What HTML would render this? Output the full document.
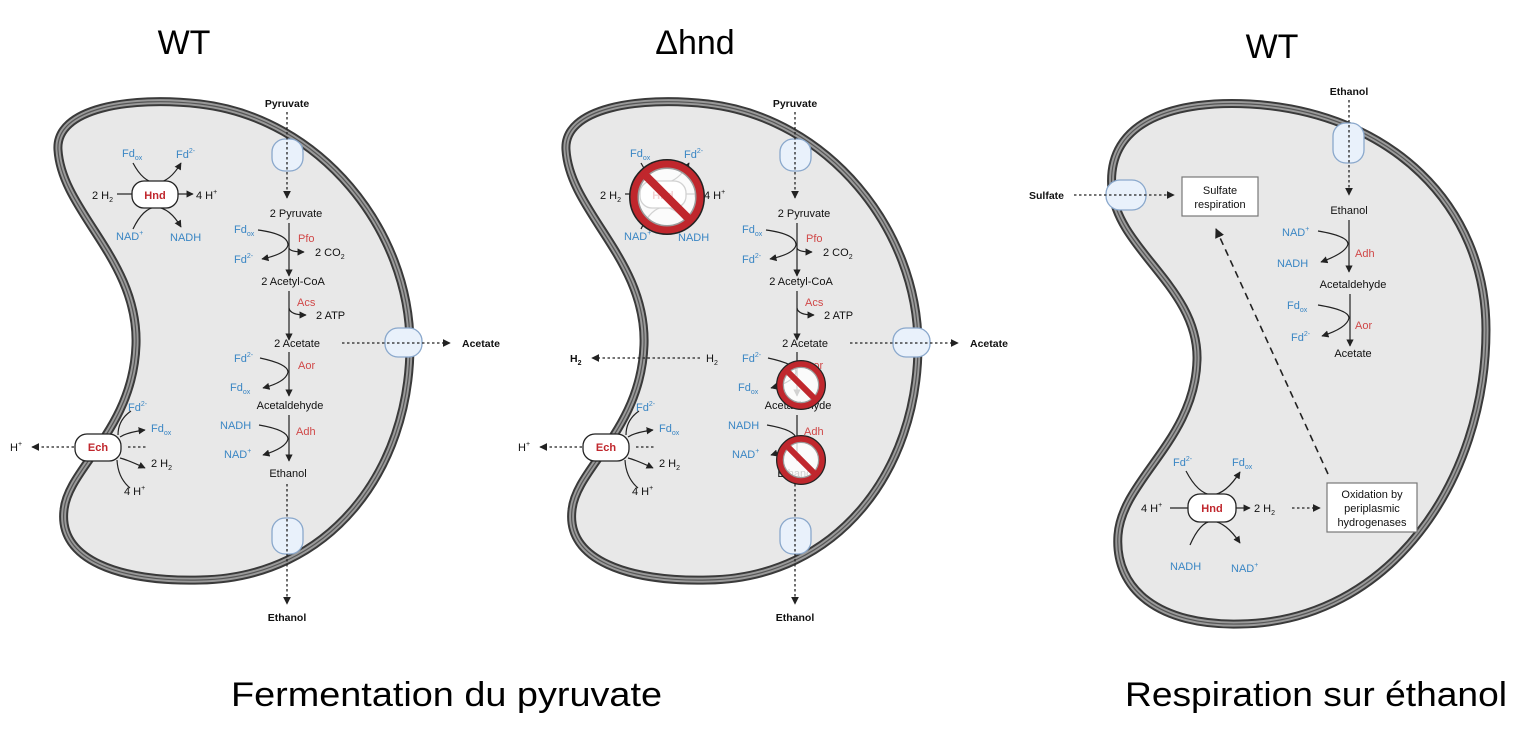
<!DOCTYPE html>
<html><head><meta charset="utf-8"><style>
html,body{margin:0;padding:0;background:#fff;}
svg{display:block;font-family:"Liberation Sans",Arial,sans-serif;}
.t{font-size:11px;fill:#111;}
.b{font-size:10.5px;font-weight:bold;fill:#111;}
.bl{font-size:11px;fill:#3a86c4;}
.r{font-size:11px;fill:#d04848;}
.ln{fill:none;stroke:#222;stroke-width:1.2;}
.dot{fill:none;stroke:#222;stroke-width:1.3;stroke-dasharray:2.5 2.5;}
.mem{fill:#e9f1fb;stroke:#8aa8cc;stroke-width:1.3;}
.enz{fill:#fff;stroke:#222;stroke-width:1.3;}
.en{font-size:11px;font-weight:bold;fill:#c0272d;}
.big{font-family:"Liberation Sans",sans-serif;font-size:34px;fill:#000;}
</style></head><body>
<svg width="1535" height="744" viewBox="0 0 1535 744" xmlns="http://www.w3.org/2000/svg">
<defs>
<marker id="a" viewBox="0 0 10 10" refX="9" refY="5" markerWidth="6" markerHeight="6" orient="auto"><path d="M0,0 L10,5 L0,10 z" fill="#222"/></marker>
<path id="p1" d="M 58,150 C 55,108 130,96 200,104 C 320,118 410,230 410,345 C 410,470 330,578 200,580 C 120,582 58,560 64,510 C 68,468 133,430 136,345 C 139,260 62,212 58,150 Z"/>
<g id="cell">
<use href="#p1" fill="#e8e8e8" stroke="#3a3a3a" stroke-width="9"/>
<use href="#p1" fill="none" stroke="#9a9a9a" stroke-width="5"/>
<use href="#p1" fill="none" stroke="#555" stroke-width="1.2"/>
<rect x="272" y="139" width="31" height="32" rx="13" class="mem"/>
<rect x="385" y="328" width="37" height="29" rx="13" class="mem"/>
<rect x="272" y="518" width="31" height="36" rx="13" class="mem"/>
<text x="287" y="107" class="b" text-anchor="middle">Pyruvate</text>
<line x1="287" y1="112" x2="287" y2="198" class="dot" marker-end="url(#a)"/>
<text x="296" y="217" class="t" text-anchor="middle">2 Pyruvate</text>
<line x1="289" y1="223" x2="289" y2="276" class="ln" marker-end="url(#a)"/>
<text x="234" y="233" class="bl">Fd<tspan font-size="7" dy="3">ox</tspan></text>
<path d="M258,230 Q288,234 288,245 Q286,254 262,259" class="ln" marker-end="url(#a)"/>
<path d="M289,248 Q290,252 304,252" class="ln" marker-end="url(#a)"/>
<text x="298" y="242" class="r">Pfo</text>
<text x="234" y="263" class="bl">Fd<tspan font-size="7" dy="-5">2-</tspan></text>
<text x="315" y="256" class="t">2 CO<tspan font-size="7" dy="3">2</tspan></text>
<text x="293" y="285" class="t" text-anchor="middle">2 Acetyl-CoA</text>
<line x1="289" y1="291" x2="289" y2="340" class="ln" marker-end="url(#a)"/>
<text x="297" y="306" class="r">Acs</text>
<path d="M289,308 Q290,315 306,315" class="ln" marker-end="url(#a)"/>
<text x="316" y="319" class="t">2 ATP</text>
<text x="297" y="347" class="t" text-anchor="middle">2 Acetate</text>
<line x1="289" y1="352" x2="289" y2="396" class="ln" marker-end="url(#a)"/>
<text x="234" y="362" class="bl">Fd<tspan font-size="7" dy="-5">2-</tspan></text>
<path d="M260,358 Q288,364 288,372 Q286,382 263,388" class="ln" marker-end="url(#a)"/>
<text x="298" y="369" class="r">Aor</text>
<text x="230" y="391" class="bl">Fd<tspan font-size="7" dy="3">ox</tspan></text>
<text x="290" y="409" class="t" text-anchor="middle">Acetaldehyde</text>
<line x1="289" y1="415" x2="289" y2="461" class="ln" marker-end="url(#a)"/>
<text x="220" y="429" class="bl">NADH</text>
<path d="M259,425 Q288,430 288,439 Q286,448 263,455" class="ln" marker-end="url(#a)"/>
<text x="296" y="435" class="r">Adh</text>
<text x="224" y="458" class="bl">NAD<tspan font-size="7" dy="-5">+</tspan></text>
<text x="288" y="477" class="t" text-anchor="middle">Ethanol</text>
<line x1="287" y1="484" x2="287" y2="604" class="dot" marker-end="url(#a)"/>
<text x="287" y="621" class="b" text-anchor="middle">Ethanol</text>
<line x1="128" y1="447" x2="146" y2="447" class="dot"/>
<line x1="74" y1="447" x2="32" y2="447" class="dot" marker-end="url(#a)"/>
<text x="10" y="451" class="t">H<tspan font-size="7" dy="-5">+</tspan></text>
<path d="M118,435 Q118,420 131,411" class="ln"/>
<path d="M120,437 Q128,432 145,430" class="ln" marker-end="url(#a)"/>
<path d="M120,458 Q128,460 145,468" class="ln" marker-end="url(#a)"/>
<path d="M117,460 Q118,478 130,488" class="ln"/>
<text x="128" y="411" class="bl">Fd<tspan font-size="7" dy="-5">2-</tspan></text>
<text x="151" y="432" class="bl">Fd<tspan font-size="7" dy="3">ox</tspan></text>
<text x="151" y="467" class="t">2 H<tspan font-size="7" dy="3">2</tspan></text>
<text x="124" y="495" class="t">4 H<tspan font-size="7" dy="-5">+</tspan></text>
<rect x="75" y="434" width="46" height="27" rx="12" class="enz"/>
<text x="98" y="451" class="en" text-anchor="middle">Ech</text>
</g>
<g id="hnd1">
<text x="122" y="157" class="bl">Fd<tspan font-size="7" dy="3">ox</tspan></text>
<text x="176" y="158" class="bl">Fd<tspan font-size="7" dy="-5">2-</tspan></text>
<path d="M133,163 Q143,182 156,183 Q170,182 181,163" class="ln" marker-end="url(#a)"/>
<path d="M133,229 Q143,208 156,207 Q170,208 181,227" class="ln" marker-end="url(#a)"/>
<text x="92" y="199" class="t">2 H<tspan font-size="7" dy="3">2</tspan></text>
<line x1="117" y1="194" x2="133" y2="194" class="ln"/>
<line x1="177" y1="194" x2="193" y2="194" class="ln" marker-end="url(#a)"/>
<text x="196" y="199" class="t">4 H<tspan font-size="7" dy="-5">+</tspan></text>
<text x="116" y="240" class="bl">NAD<tspan font-size="7" dy="-5">+</tspan></text>
<text x="170" y="241" class="bl">NADH</text>
<rect x="132" y="181" width="46" height="27" rx="12" class="enz"/>
<text x="155" y="199" class="en" text-anchor="middle">Hnd</text>
</g>
<path id="p3" d="M 1112,190 C 1105,118 1180,100 1250,104 C 1390,112 1486,205 1486,330 C 1486,480 1390,622 1240,624 C 1160,626 1114,590 1118,535 C 1122,480 1195,440 1197,360 C 1199,288 1118,250 1112,190 Z"/>
</defs>

<use href="#cell"/>
<use href="#hnd1"/>
<line x1="342" y1="343" x2="450" y2="343" class="dot" marker-end="url(#a)"/>
<text x="462" y="347" class="b">Acetate</text>

<g transform="translate(508,0)">
<use href="#cell"/>
<use href="#hnd1"/>
<line x1="342" y1="343" x2="450" y2="343" class="dot" marker-end="url(#a)"/>
<text x="462" y="347" class="b">Acetate</text>
</g>
<line x1="700" y1="358" x2="592" y2="358" class="dot" marker-end="url(#a)"/>
<text x="706" y="362" class="t">H<tspan font-size="7" dy="3">2</tspan></text>
<text x="570" y="362" class="b">H<tspan font-size="7" dy="3">2</tspan></text>
<g fill="rgba(255,255,255,0.55)">
<circle cx="667" cy="197" r="33" stroke="#222" stroke-width="10"/>
<circle cx="667" cy="197" r="33" stroke="#c0272d" stroke-width="7"/>
<line x1="644" y1="174" x2="690" y2="220" stroke="#c0272d" stroke-width="8"/>
<circle cx="801" cy="385" r="21" stroke="#222" stroke-width="8"/>
<circle cx="801" cy="385" r="21" stroke="#c0272d" stroke-width="5.5"/>
<line x1="786" y1="370" x2="816" y2="400" stroke="#c0272d" stroke-width="6"/>
<circle cx="801" cy="460" r="21" stroke="#222" stroke-width="8"/>
<circle cx="801" cy="460" r="21" stroke="#c0272d" stroke-width="5.5"/>
<line x1="786" y1="445" x2="816" y2="475" stroke="#c0272d" stroke-width="6"/>
</g>

<g>
<use href="#p3" fill="#e8e8e8" stroke="#3a3a3a" stroke-width="9"/>
<use href="#p3" fill="none" stroke="#9a9a9a" stroke-width="5"/>
<use href="#p3" fill="none" stroke="#555" stroke-width="1.2"/>
<rect x="1333" y="123" width="31" height="40" rx="13" class="mem"/>
<rect x="1106" y="180" width="40" height="30" rx="14" class="mem"/>
<text x="1349" y="95" class="b" text-anchor="middle">Ethanol</text>
<line x1="1349" y1="100" x2="1349" y2="195" class="dot" marker-end="url(#a)"/>
<text x="1029" y="199" class="b">Sulfate</text>
<line x1="1074" y1="195" x2="1174" y2="195" class="dot" marker-end="url(#a)"/>
<rect x="1182" y="177" width="76" height="39" fill="#fff" stroke="#777" stroke-width="1.2"/>
<text x="1220" y="194" class="t" text-anchor="middle">Sulfate</text>
<text x="1220" y="208" class="t" text-anchor="middle">respiration</text>
<text x="1349" y="214" class="t" text-anchor="middle">Ethanol</text>
<line x1="1349" y1="220" x2="1349" y2="272" class="ln" marker-end="url(#a)"/>
<text x="1282" y="236" class="bl">NAD<tspan font-size="7" dy="-5">+</tspan></text>
<path d="M1318,231 Q1348,236 1348,244 Q1346,253 1321,262" class="ln" marker-end="url(#a)"/>
<text x="1355" y="257" class="r">Adh</text>
<text x="1277" y="267" class="bl">NADH</text>
<text x="1353" y="288" class="t" text-anchor="middle">Acetaldehyde</text>
<line x1="1350" y1="294" x2="1350" y2="346" class="ln" marker-end="url(#a)"/>
<text x="1287" y="309" class="bl">Fd<tspan font-size="7" dy="3">ox</tspan></text>
<path d="M1318,305 Q1349,310 1349,318 Q1347,328 1322,336" class="ln" marker-end="url(#a)"/>
<text x="1355" y="329" class="r">Aor</text>
<text x="1291" y="341" class="bl">Fd<tspan font-size="7" dy="-5">2-</tspan></text>
<text x="1353" y="357" class="t" text-anchor="middle">Acetate</text>
<line x1="1328" y1="474" x2="1216" y2="229" stroke="#222" stroke-width="1.6" stroke-dasharray="7 5" marker-end="url(#a)"/>
<text x="1173" y="466" class="bl">Fd<tspan font-size="7" dy="-5">2-</tspan></text>
<text x="1232" y="466" class="bl">Fd<tspan font-size="7" dy="3">ox</tspan></text>
<path d="M1186,471 Q1198,494 1212,495 Q1226,494 1240,472" class="ln" marker-end="url(#a)"/>
<path d="M1190,545 Q1200,522 1212,521 Q1226,522 1240,543" class="ln" marker-end="url(#a)"/>
<text x="1141" y="512" class="t">4 H<tspan font-size="7" dy="-5">+</tspan></text>
<line x1="1170" y1="508" x2="1188" y2="508" class="ln"/>
<line x1="1236" y1="508" x2="1250" y2="508" class="ln" marker-end="url(#a)"/>
<text x="1254" y="512" class="t">2 H<tspan font-size="7" dy="3">2</tspan></text>
<line x1="1292" y1="508" x2="1320" y2="508" class="dot" marker-end="url(#a)"/>
<text x="1170" y="570" class="bl">NADH</text>
<text x="1231" y="572" class="bl">NAD<tspan font-size="7" dy="-5">+</tspan></text>
<rect x="1188" y="494" width="48" height="28" rx="12" class="enz"/>
<text x="1212" y="512" class="en" text-anchor="middle">Hnd</text>
<rect x="1327" y="483" width="90" height="49" fill="#fff" stroke="#777" stroke-width="1.2"/>
<text x="1372" y="498" class="t" text-anchor="middle" font-size="10.5">Oxidation by</text>
<text x="1372" y="512" class="t" text-anchor="middle" font-size="10.5">periplasmic</text>
<text x="1372" y="526" class="t" text-anchor="middle" font-size="10.5">hydrogenases</text>
</g>

<text x="184" y="54" class="big" text-anchor="middle">WT</text>
<text x="695" y="54" class="big" text-anchor="middle">Δhnd</text>
<text x="1272" y="58" class="big" text-anchor="middle">WT</text>
<text x="231" y="706" class="big" textLength="431" lengthAdjust="spacingAndGlyphs">Fermentation du pyruvate</text>
<text x="1125" y="706" class="big" textLength="382" lengthAdjust="spacingAndGlyphs">Respiration sur éthanol</text>
</svg>
</body></html>
